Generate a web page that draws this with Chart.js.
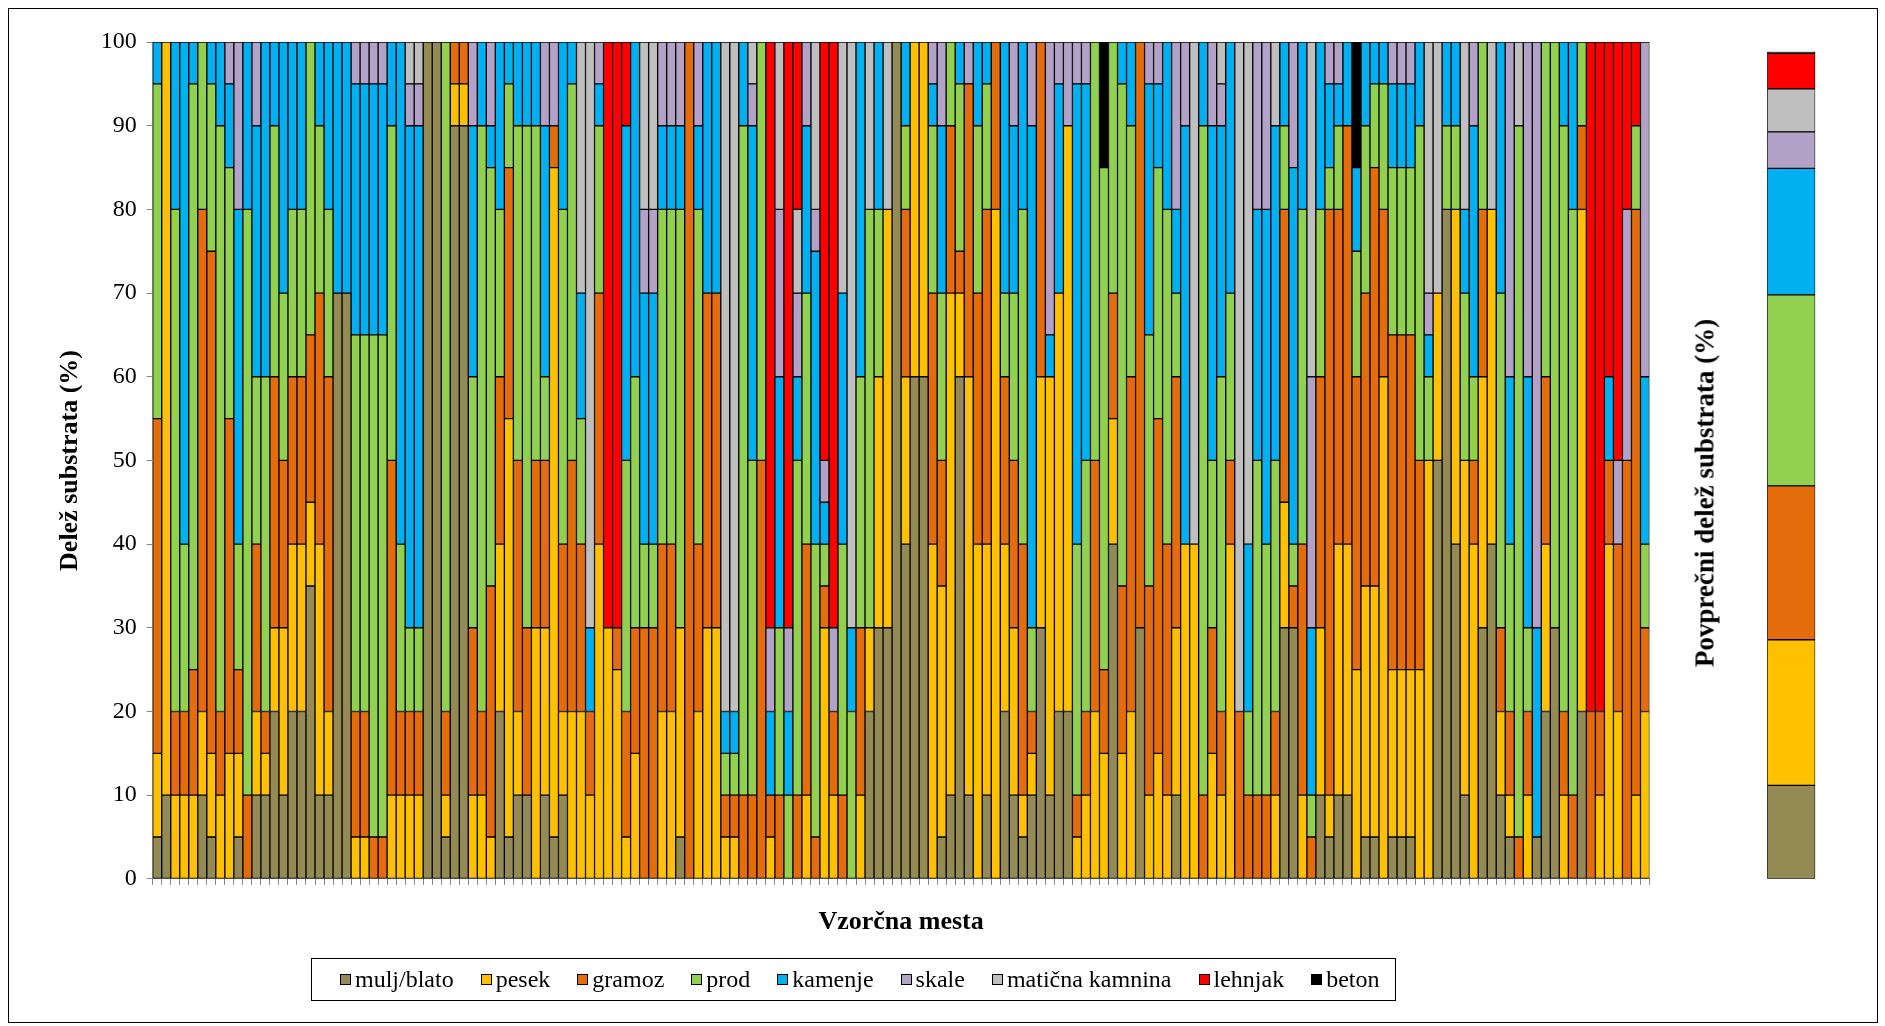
<!DOCTYPE html>
<html>
<head>
<meta charset="utf-8">
<title>Delež substrata po vzorčnih mestih</title>
<script src="https://cdn.jsdelivr.net/npm/chart.js@4.4.1/dist/chart.umd.min.js"></script>
<style>
  html, body { margin: 0; padding: 0; background: #fff; }
  body { width: 1885px; height: 1026px; position: relative; overflow: hidden;
         font-family: "Liberation Serif", "Times New Roman", serif; color: #000; }
  #frame { position: absolute; left: 8px; top: 8px; width: 1870px; height: 1015px;
           border: 1px solid #000; box-sizing: border-box; }
  #mainWrap { position: absolute; left: 0; top: 0; width: 1690px; height: 1026px; }
  #avgWrap { position: absolute; left: 1690px; top: 0; width: 195px; height: 1026px; }
  #avgTitle { position: absolute; left: 1705px; top: 493px; transform: translate(-50%, -50%) rotate(-90deg);
              font-weight: bold; font-size: 27px; white-space: nowrap; line-height: 1; }
  #legend { position: absolute; left: 311px; top: 958px; width: 1085px; height: 43px;
            border: 1px solid #000; box-sizing: border-box; display: flex; align-items: center;
            justify-content: flex-start; padding-left: 28px; gap: 27px; font-size: 24px; white-space: nowrap; }
  .item { display: flex; align-items: center; }
  .mark { width: 11px; height: 11px; border: 1px solid #000; box-sizing: border-box; margin-right: 4px; }
</style>
</head>
<body>
<div id="frame"></div>
<div id="mainWrap"><canvas id="main" width="1690" height="1026"></canvas></div>
<div id="avgWrap"><canvas id="avg" width="195" height="1026"></canvas></div>
<div id="avgTitle">Povprečni delež substrata (%)</div>
<div id="legend"></div>
<script>
// ---- data: share of each substrate type (%) at every sampling site ----
const seriesNames  = ['mulj/blato', 'pesek', 'gramoz', 'prod', 'kamenje', 'skale', 'matična kamnina', 'lehnjak', 'beton'];
const seriesColors = ['#948A54', '#FFC000', '#E46C0A', '#92D050', '#00B0F0', '#B3A2C7', '#BFBFBF', '#FF0000', '#000000'];
const yTicks = [0, 10, 20, 30, 40, 50, 60, 70, 80, 90, 100];
const sites = Array.from({ length: 166 }, (_, i) => String(i + 1));

const mulj = [
  5,10,0,0,0,10,5,0,0,5,
  0,10,10,20,10,20,20,35,10,10,
  70,70,0,0,0,0,0,0,0,0,
  100,100,5,90,90,0,0,0,20,5,
  10,10,0,10,5,10,0,0,0,0,
  0,0,0,0,0,0,0,0,5,0,
  0,0,0,0,0,0,0,0,0,0,
  0,0,0,0,0,0,0,0,0,20,
  30,30,100,40,60,60,0,5,10,60,
  10,0,10,0,20,10,5,10,30,10,
  20,20,0,0,0,0,40,0,0,30,
  0,0,0,10,0,0,0,0,0,0,
  0,0,0,0,0,30,30,0,0,10,
  5,10,10,0,5,5,0,5,5,5,
  0,0,50,80,40,10,0,30,40,10,
  5,0,0,5,20,30,0,0,20,0,
  0,0,0,0,0,0
];
const pesek = [
  10,90,10,10,10,10,10,10,15,10,
  0,10,5,10,20,20,20,10,30,10,
  0,0,5,5,0,0,10,10,10,10,
  0,0,5,5,5,10,10,5,20,50,
  10,0,30,20,80,10,20,20,10,40,
  30,25,5,15,0,0,20,20,25,0,
  20,30,30,5,5,0,0,0,5,0,
  0,0,10,0,30,10,0,0,10,10,
  30,50,0,20,40,40,40,30,60,10,
  50,40,30,80,20,20,5,5,30,50,
  50,70,5,10,20,15,15,15,20,0,
  10,15,10,20,40,40,0,15,10,40,
  0,0,0,0,10,15,0,10,0,20,
  5,30,30,25,30,30,60,20,20,20,
  25,50,20,0,40,40,40,30,40,10,
  5,0,10,0,20,0,10,0,60,0,
  10,40,20,0,10,20
];
const gramoz = [
  40,0,10,10,15,60,60,10,40,10,
  10,20,5,30,20,20,20,20,30,40,
  0,0,15,15,5,5,40,10,10,10,
  0,0,10,5,5,20,10,30,20,30,
  30,20,20,20,5,20,30,20,10,30,
  0,5,15,15,30,30,20,20,0,100,
  20,40,40,5,5,10,10,50,5,10,
  0,10,30,5,5,10,10,0,20,0,
  0,0,0,20,0,0,30,15,20,5,
  35,30,40,20,20,20,30,5,40,0,
  0,0,5,10,30,10,15,20,40,70,
  25,40,30,30,0,0,10,15,10,10,
  20,10,10,10,10,35,5,30,5,30,
  70,40,50,35,35,50,20,40,40,40,
  25,0,0,0,0,0,10,20,0,10,
  10,5,10,0,20,0,10,10,10,20,
  10,10,20,50,70,10
];
const prod = [
  40,0,60,20,70,20,20,70,30,15,
  70,20,40,30,20,20,20,35,20,20,
  0,0,45,45,60,60,40,20,10,10,
  0,0,80,0,0,30,70,50,20,10,
  40,60,40,10,0,40,45,15,0,20,
  0,0,30,30,10,10,40,40,50,0,
  40,0,0,5,5,80,40,50,0,20,
  10,40,30,35,5,0,30,20,30,50,
  20,0,0,10,0,0,20,20,10,20,
  0,20,15,0,10,20,40,10,0,0,
  0,0,30,30,50,60,30,60,30,0,
  30,30,40,10,0,0,80,20,40,20,
  0,10,40,30,30,10,5,40,5,20,
  5,10,0,15,20,10,15,20,20,20,
  40,10,0,10,10,20,10,20,0,40,
  20,85,10,0,40,70,70,70,10,0,
  0,0,0,0,10,10
];
const kamenje = [
  5,0,20,60,5,0,5,10,10,40,
  20,30,40,10,30,20,20,0,10,20,
  30,30,30,30,30,30,10,60,60,60,
  0,0,0,0,0,30,10,5,20,5,
  10,10,10,30,0,20,5,15,10,5,
  0,0,40,40,30,30,10,10,10,0,
  10,30,30,5,5,10,40,0,10,30,
  10,10,20,35,5,0,30,10,40,0,
  20,0,0,10,0,0,5,20,0,5,
  0,10,5,0,30,20,20,60,0,5,
  25,0,55,45,0,0,0,5,10,0,
  30,10,20,10,50,0,10,40,30,30,
  0,20,30,40,40,10,45,20,20,20,
  10,5,10,10,10,5,5,10,10,10,
  10,5,0,10,10,10,30,0,0,30,
  20,0,30,25,0,0,10,20,0,0,
  0,10,0,0,0,20
];
const skale = [
  0,0,0,0,0,0,0,0,5,20,
  0,10,0,0,0,0,0,0,0,0,
  0,0,5,5,5,5,0,0,5,5,
  0,0,0,0,0,10,0,10,0,0,
  0,0,0,10,10,0,0,0,0,5,
  0,0,0,0,10,10,10,10,10,0,
  10,0,0,0,0,0,5,0,10,20,
  10,10,10,5,5,10,0,0,0,0,
  0,0,0,0,0,0,5,10,0,0,
  5,0,0,0,0,10,0,10,0,35,
  5,10,5,5,0,0,0,0,0,0,
  5,5,0,20,10,0,0,10,5,0,
  0,0,20,20,0,0,15,0,30,0,
  5,5,0,0,0,0,0,5,5,5,
  0,5,0,0,0,0,10,0,0,0,
  40,0,40,70,0,0,0,0,0,0,
  0,0,10,30,0,40
];
const maticnaKamnina = [
  0,0,0,0,0,0,0,0,0,0,
  0,0,0,0,0,0,0,0,0,0,
  0,0,0,0,0,0,0,0,5,5,
  0,0,0,0,0,0,0,0,0,0,
  0,0,0,0,0,0,0,30,70,0,
  0,0,0,0,20,20,0,0,0,0,
  0,0,0,80,80,0,5,0,0,20,
  0,10,0,20,0,0,30,70,0,20,
  0,20,0,0,0,0,0,0,0,0,
  0,0,0,0,0,0,0,0,0,0,
  0,0,0,0,0,0,0,0,0,0,
  0,0,0,0,0,60,0,0,5,0,
  80,60,0,0,10,0,0,0,40,0,
  0,0,0,0,0,0,0,0,0,0,
  0,30,30,0,0,20,0,0,20,0,
  0,10,0,0,0,0,0,0,0,0,
  0,0,0,0,0,0
];
const lehnjak = [
  0,0,0,0,0,0,0,0,0,0,
  0,0,0,0,0,0,0,0,0,0,
  0,0,0,0,0,0,0,0,0,0,
  0,0,0,0,0,0,0,0,0,0,
  0,0,0,0,0,0,0,0,0,0,
  70,70,10,0,0,0,0,0,0,0,
  0,0,0,0,0,0,0,0,70,0,
  70,20,0,0,50,70,0,0,0,0,
  0,0,0,0,0,0,0,0,0,0,
  0,0,0,0,0,0,0,0,0,0,
  0,0,0,0,0,0,0,0,0,0,
  0,0,0,0,0,0,0,0,0,0,
  0,0,0,0,0,0,0,0,0,0,
  0,0,0,0,0,0,0,0,0,0,
  0,0,0,0,0,0,0,0,0,0,
  0,0,0,0,0,0,0,0,0,80,
  80,40,50,20,10,0
];
const beton = [
  0,0,0,0,0,0,0,0,0,0,
  0,0,0,0,0,0,0,0,0,0,
  0,0,0,0,0,0,0,0,0,0,
  0,0,0,0,0,0,0,0,0,0,
  0,0,0,0,0,0,0,0,0,0,
  0,0,0,0,0,0,0,0,0,0,
  0,0,0,0,0,0,0,0,0,0,
  0,0,0,0,0,0,0,0,0,0,
  0,0,0,0,0,0,0,0,0,0,
  0,0,0,0,0,0,0,0,0,0,
  0,0,0,0,0,15,0,0,0,0,
  0,0,0,0,0,0,0,0,0,0,
  0,0,0,0,0,0,0,0,0,0,
  0,0,0,15,0,0,0,0,0,0,
  0,0,0,0,0,0,0,0,0,0,
  0,0,0,0,0,0,0,0,0,0,
  0,0,0,0,0,0
];
// average share of each substrate over all sites (%)
const averages = [11.3, 17.6, 18.6, 23.1, 15.3, 4.4, 5.2, 4.3, 0.2];

const seriesValues = [mulj, pesek, gramoz, prod, kamenje, skale, maticnaKamnina, lehnjak, beton];

// ---- layout ----
const SERIF = '"Liberation Serif", "Times New Roman", serif';
Chart.defaults.font.family = SERIF;
Chart.defaults.color = '#000';
const AXIS_GREY = '#868686';

const mainArea = { left: 152.7, right: 1649.5, top: 42.1, bottom: 878.8 };
const mainW = 1690, mainH = 1026;
const yTitleLeft = 54.4;
const xAxisHeight = 58.8;

function barSet(name, values, color) {
  return {
    label: name,
    data: values.map(v => (v > 0 ? v : null)),
    backgroundColor: color,
    borderColor: '#000',
    borderWidth: 1,
    borderSkipped: false,
    barPercentage: 1,
    categoryPercentage: 1,
    stack: 'substrat'
  };
}

new Chart(document.getElementById('main'), {
  type: 'bar',
  data: {
    labels: sites,
    datasets: seriesNames.map((n, i) => barSet(n, seriesValues[i], seriesColors[i]))
  },
  options: {
    responsive: false,
    animation: false,
    devicePixelRatio: 1,
    layout: {
      padding: {
        left: yTitleLeft,
        top: mainArea.top,
        right: mainW - mainArea.right,
        bottom: mainH - mainArea.bottom - xAxisHeight
      }
    },
    plugins: { legend: { display: false }, tooltip: { enabled: false } },
    scales: {
      x: {
        stacked: true,
        offset: true,
        grid: { display: true, offset: true, drawOnChartArea: false, drawTicks: true,
                tickLength: 6, color: AXIS_GREY, lineWidth: 1 },
        border: { display: true, color: AXIS_GREY, width: 1 },
        ticks: { display: false, autoSkip: false },
        title: { display: true, text: 'Vzorčna mesta', padding: 0,
                 font: { size: 26, weight: 'bold', family: SERIF } },
        afterFit(scale) { scale.height = xAxisHeight; }
      },
      y: {
        stacked: true,
        min: 0,
        max: 100,
        grid: { display: true, drawOnChartArea: false, drawTicks: true,
                tickLength: 6, color: AXIS_GREY, lineWidth: 1 },
        border: { display: true, color: AXIS_GREY, width: 1 },
        ticks: { padding: 10, font: { size: 24, family: SERIF }, color: '#000' },
        afterBuildTicks(scale) { scale.ticks = yTicks.map(v => ({ value: v })); },
        title: { display: true, text: 'Delež substrata (%)', padding: 0,
                 font: { size: 26, weight: 'bold', family: SERIF } },
        afterFit(scale) { scale.width = mainArea.left - yTitleLeft; }
      }
    }
  }
});

// ---- single stacked bar of average shares ----
const avgArea = { left: 1767.2, right: 1815.3, top: 51.7, bottom: 878.8 };
const avgOffset = 1690, avgW = 195;
new Chart(document.getElementById('avg'), {
  type: 'bar',
  data: {
    labels: ['povprečje'],
    datasets: seriesNames.map((n, i) => barSet(n, [averages[i]], seriesColors[i]))
  },
  options: {
    responsive: false,
    animation: false,
    devicePixelRatio: 1,
    layout: {
      padding: {
        left: avgArea.left - avgOffset,
        right: avgOffset + avgW - avgArea.right,
        top: avgArea.top,
        bottom: mainH - avgArea.bottom
      }
    },
    plugins: { legend: { display: false }, tooltip: { enabled: false } },
    scales: {
      x: { stacked: true, display: false },
      y: { stacked: true, display: false, min: 0, max: 100 }
    }
  }
});

// ---- legend ----
const legend = document.getElementById('legend');
seriesNames.forEach((name, i) => {
  const item = document.createElement('div');
  item.className = 'item';
  const mark = document.createElement('span');
  mark.className = 'mark';
  mark.style.background = seriesColors[i];
  const text = document.createElement('span');
  text.textContent = name;
  item.appendChild(mark);
  item.appendChild(text);
  legend.appendChild(item);
});
</script>
</body>
</html>
